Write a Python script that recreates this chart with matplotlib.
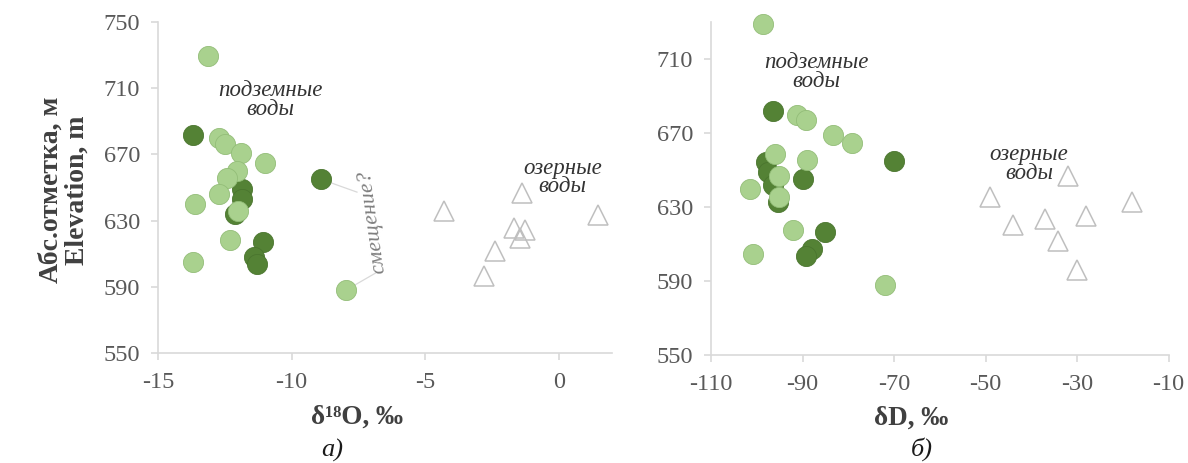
import matplotlib.pyplot as plt

# δ18O и абс. отметки: подземные воды (две группы) и озерные воды
o18_dark = [-13.69, -11.87, -11.87, -12.12, -11.08, -11.39, -11.28, -8.90]
elev_o18_dark = [682, 649, 643, 634, 617, 608, 604, 655]
o18_light = [-13.13, -12.70, -12.49, -11.90, -10.99, -12.06, -12.41,
             -12.70, -13.61, -11.99, -12.30, -13.70, -7.96]
elev_o18_light = [729.5, 680, 676.5, 671, 665, 660, 656, 646, 640, 636, 618, 605, 588]
o18_lake = [-4.28, -1.38, -1.67, -1.25, -1.44, -2.38, -2.78, 1.49]
elev_o18_lake = [635.7, 646.8, 625.7, 624.1, 619.7, 611.6, 596.6, 633.1]

# δD и абс. отметки
dd_dark = [-96.5, -98.0, -97.5, -96.4, -95.3, -90.0, -70.0, -85.1, -88.0, -89.2]
elev_dd_dark = [681.7, 654.2, 649.0, 641.9, 632.7, 645.0, 655.0, 616.3, 606.9, 603.6]
dd_light = [-98.6, -91.1, -89.3, -83.3, -79.2, -96.0, -89.1,
            -95.1, -101.5, -95.1, -92.0, -100.8, -72.0]
elev_dd_light = [728.7, 679.9, 676.8, 668.8, 664.6, 658.6, 655.5,
                 646.4, 639.7, 635.5, 617.6, 604.5, 587.8]
dd_lake = [-48.95, -32.0, -18.0, -44.1, -37.1, -28.0, -34.1, -30.1]
elev_dd_lake = [635.5, 646.4, 632.7, 620.0, 623.6, 625.1, 611.4, 596.0]

plt.rcParams['axes.unicode_minus'] = False

serif = ['Liberation Serif', 'DejaVu Serif']
axis_grey = '#d9d9d9'
text_grey = '#595959'
light_green = '#a9d18e'
dark_green = '#548235'

fig = plt.figure(figsize=(11.88, 4.63), dpi=100)
ax1 = fig.add_axes([0.1330, 0.2376, 0.3822, 0.7149])
ax2 = fig.add_axes([0.5985, 0.2343, 0.3851, 0.7182])


def style_axes(ax):
    for side in ['top', 'right']:
        ax.spines[side].set_visible(False)
    for side in ['left', 'bottom']:
        ax.spines[side].set_color(axis_grey)
        ax.spines[side].set_linewidth(1.2)
    ax.tick_params(length=5, width=1.2, color=axis_grey, labelcolor=text_grey,
                   labelsize=17.5)
    ax.tick_params(axis='x', pad=9)
    ax.tick_params(axis='y', pad=8)
    for lbl in ax.get_xticklabels() + ax.get_yticklabels():
        lbl.set_family(serif)


def draw_points(ax, xd, yd, xl, yl, xt, yt):
    ax.plot(xt, yt, linestyle='none', marker='^', markersize=15,
            markerfacecolor='none', markeredgecolor='#bfbfbf',
            markeredgewidth=1.1, clip_on=False, zorder=3)
    ax.plot(xd, yd, linestyle='none', marker='o', markersize=14.5,
            markerfacecolor=dark_green, markeredgecolor='#4a752e',
            markeredgewidth=0.6, clip_on=False, zorder=4)
    ax.plot(xl, yl, linestyle='none', marker='o', markersize=14.5,
            markerfacecolor=light_green, markeredgecolor='#93bd78',
            markeredgewidth=0.6, clip_on=False, zorder=5)


# а) δ18O
draw_points(ax1, o18_dark, elev_o18_dark, o18_light, elev_o18_light,
            o18_lake, elev_o18_lake)
ax1.set_xlim(-15, 2)
ax1.set_ylim(550, 750)
ax1.set_xticks([-15, -10, -5, 0])
ax1.set_yticks([550, 590, 630, 670, 710, 750])
style_axes(ax1)

ax1.text(-10.8, 703, 'подземные\nводы', ha='center', va='center', fontsize=16.5,
         style='italic', family=serif, color='#333333', linespacing=0.85)
ax1.text(0.15, 656, 'озерные\nводы', ha='center', va='center', fontsize=16.5,
         style='italic', family=serif, color='#333333', linespacing=0.85)

# подписи «смещение?» с выносками
ax1.plot([-8.90, -7.55], [655, 647.2], color='#d9d9d9', lw=0.9, zorder=2)
ax1.plot([-7.96, -6.80], [588, 598.8], color='#d9d9d9', lw=0.9, zorder=2)
ax1.text(-6.95, 629.6, 'смещение?', rotation=98, ha='center', va='center',
         fontsize=16, style='italic', family=serif, color='#7f7f7f',
         rotation_mode='anchor')

# б) δD
draw_points(ax2, dd_dark, elev_dd_dark, dd_light, elev_dd_light,
            dd_lake, elev_dd_lake)
ax2.set_xlim(-110, -10)
ax2.set_ylim(550, 730)
ax2.set_xticks([-110, -90, -70, -50, -30, -10])
ax2.set_yticks([550, 590, 630, 670, 710])
style_axes(ax2)

ax2.text(-87.0, 703, 'подземные\nводы', ha='center', va='center', fontsize=16.5,
         style='italic', family=serif, color='#333333', linespacing=0.85)
ax2.text(-40.5, 653, 'озерные\nводы', ha='center', va='center', fontsize=16.5,
         style='italic', family=serif, color='#333333', linespacing=0.85)

# подписи осей и панелей
fig.text(0.054, 0.59, 'Абс.отметка, м\nElevation, m', rotation=90,
         ha='center', va='center', fontsize=20, fontweight='bold',
         family=serif, color='#404040', linespacing=1.05)
fig.text(0.3005, 0.100, 'δ¹⁸O, ‰', ha='center', va='center', fontsize=19.5,
         fontweight='bold', family=serif, color='#404040')
fig.text(0.767, 0.097, 'δD, ‰', ha='center', va='center', fontsize=19.5,
         fontweight='bold', family=serif, color='#404040')
fig.text(0.2795, 0.028, 'а)', ha='center', va='center', fontsize=19,
         style='italic', family=serif, color='#1a1a1a')
fig.text(0.776, 0.030, 'б)', ha='center', va='center', fontsize=19,
         style='italic', family=serif, color='#1a1a1a')

fig.savefig('out.png', dpi=100)
plt.close(fig)
